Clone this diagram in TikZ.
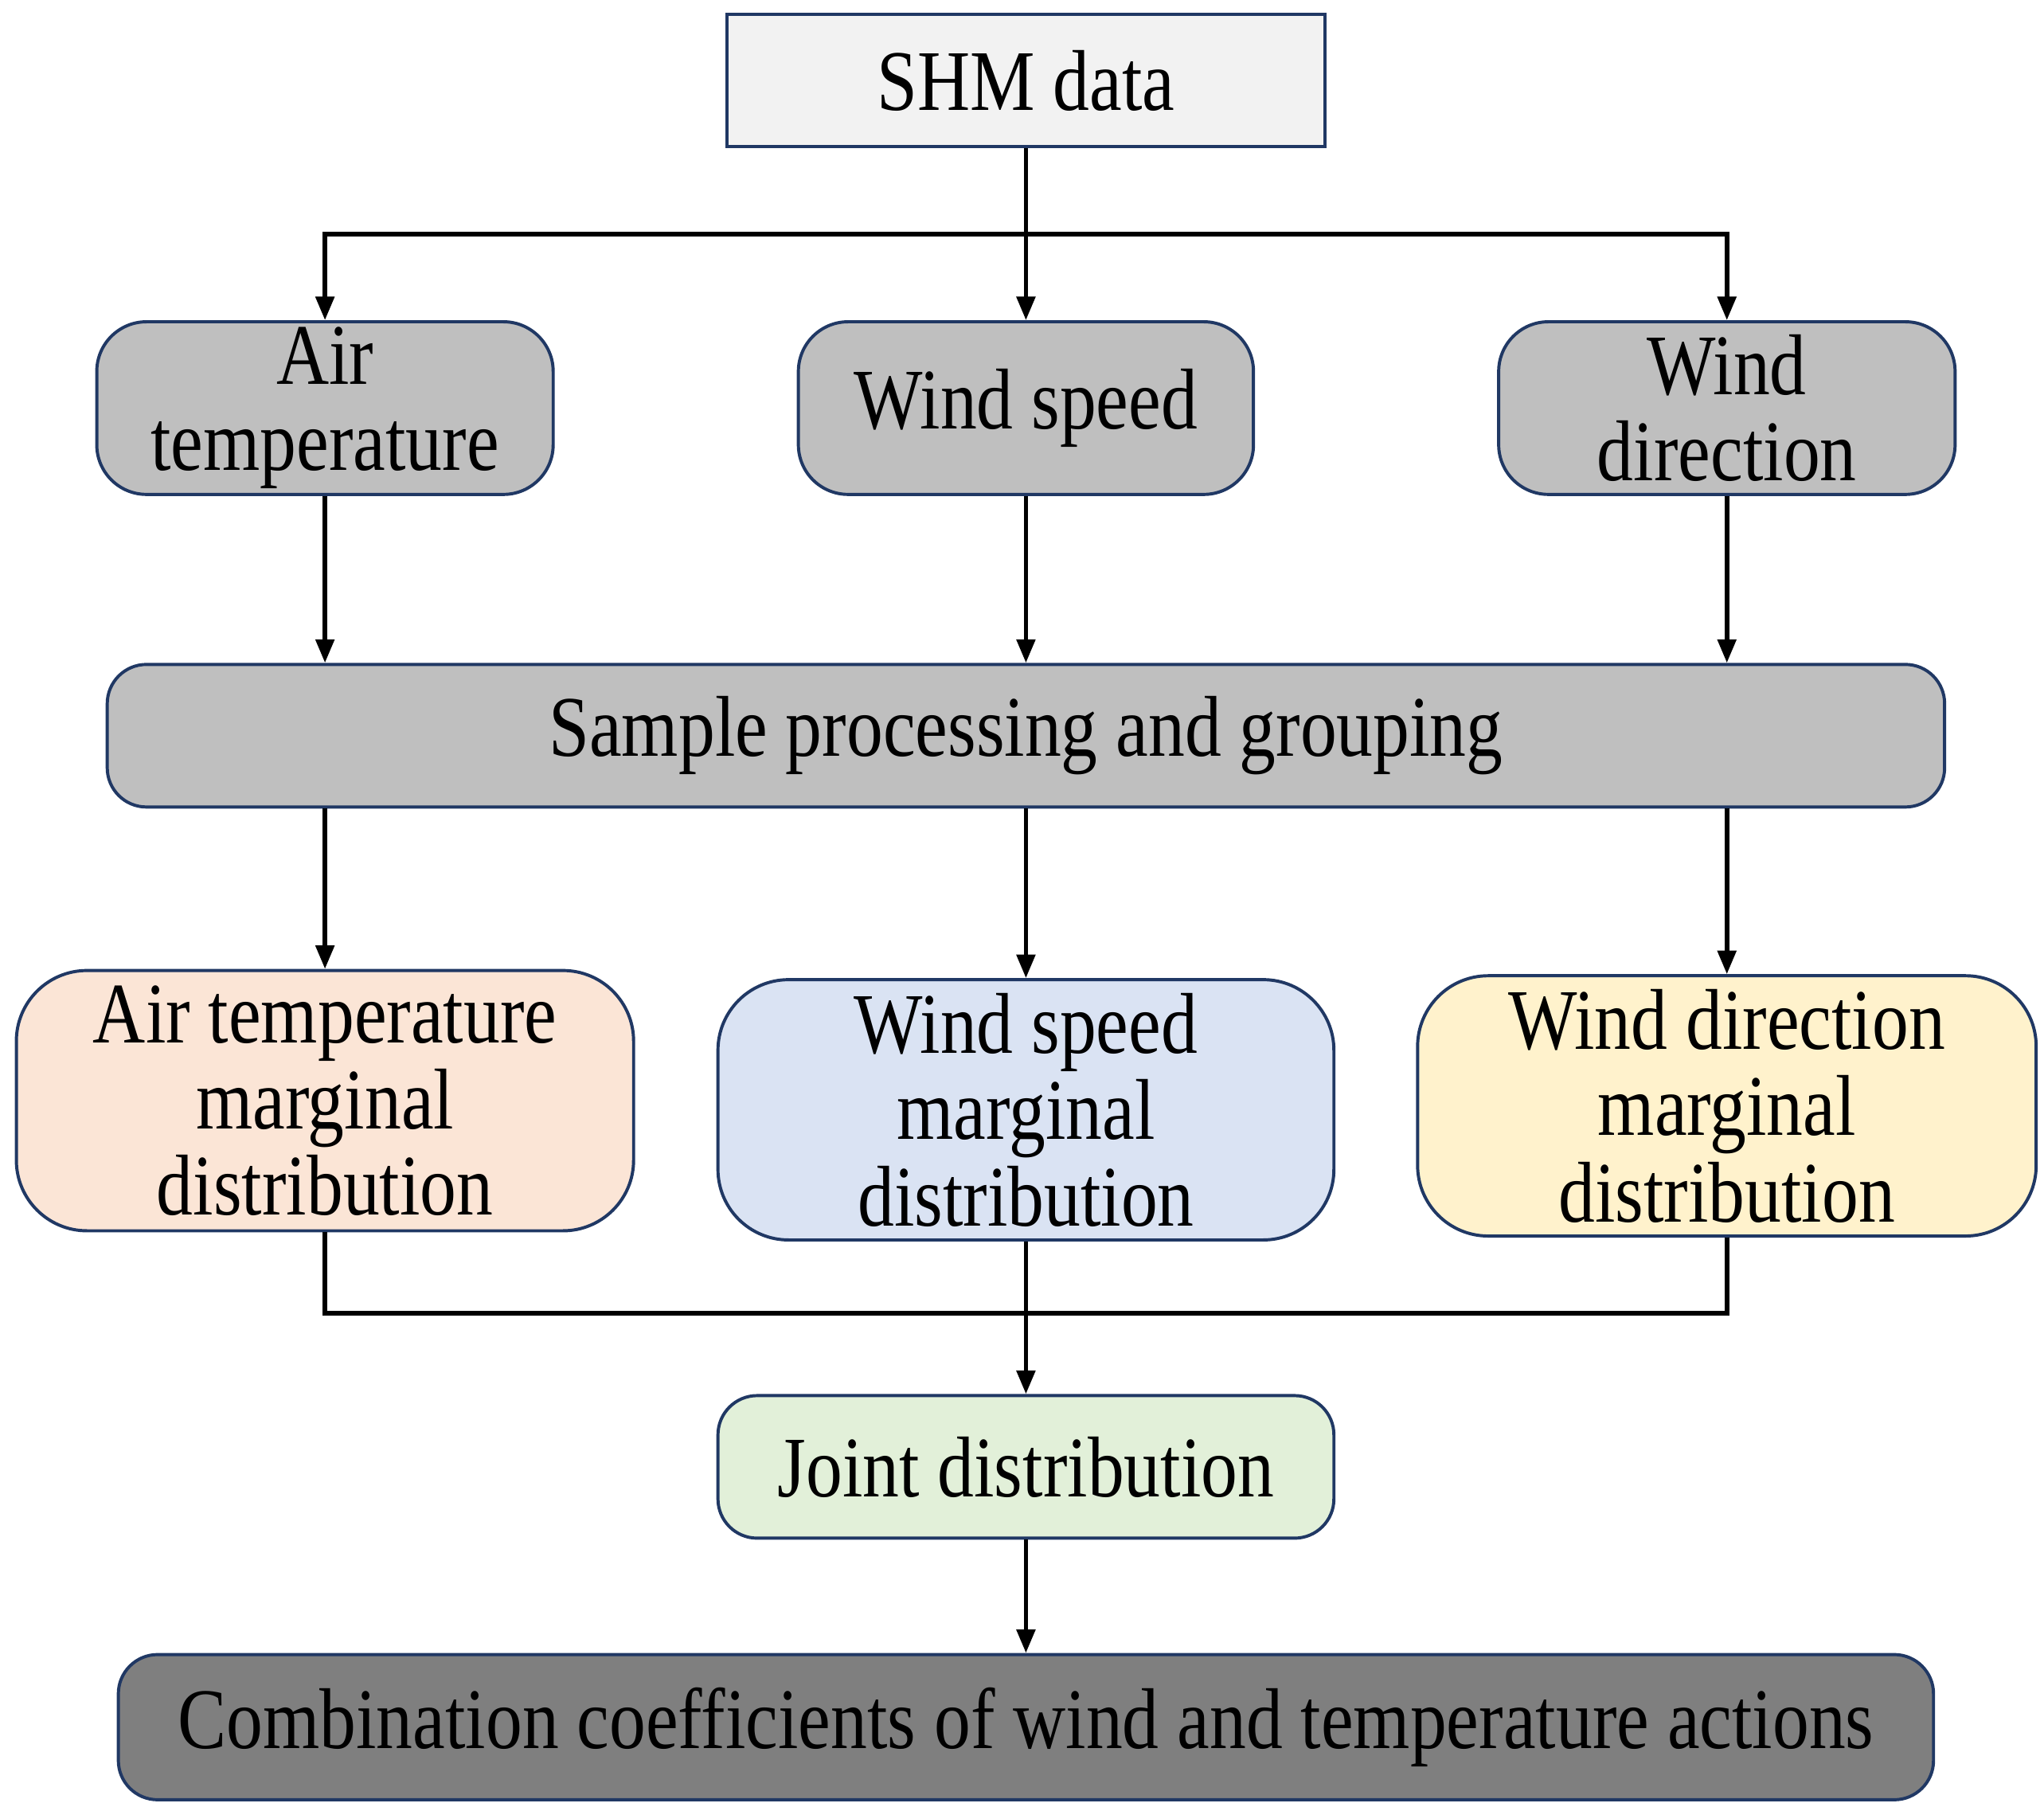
\documentclass[tikz,border=0pt]{standalone}
\usepackage{fontspec}
\setmainfont{Liberation Serif}[FakeStretch=0.845]
\usetikzlibrary{arrows.meta,calc}
\definecolor{navy}{HTML}{203864}
\definecolor{gA}{HTML}{F2F2F2}
\definecolor{gB}{HTML}{BFBFBF}
\definecolor{gC}{HTML}{7F7F7F}
\definecolor{cOr}{HTML}{FBE5D6}
\definecolor{cBl}{HTML}{DAE3F3}
\definecolor{cYe}{HTML}{FFF2CC}
\definecolor{cGr}{HTML}{E2F0D9}
\tikzset{
  box/.style={draw=navy, line width=1.2pt, align=center, inner sep=0pt,
    font=\fontsize{33}{33}\selectfont},
  rbox/.style={box, rounded corners=#1},
  arr/.style={line width=1.7pt, -{Triangle[length=9pt,width=7pt]}},
  ln/.style={line width=1.7pt}
}
\begin{document}
\begin{tikzpicture}[x=0.5pt,y=-0.5pt]
\useasboundingbox (0,0) rectangle (1563,1381);
\node[box, fill=gA, minimum width=228.5pt, minimum height=50.5pt] (shm) at (784.5,61.5) {SHM data};
\node[rbox=19pt, fill=gB, minimum width=174.5pt, minimum height=66pt] (at) at (248.5,312) {Air\\temperature};
\node[rbox=19pt, fill=gB, minimum width=174pt, minimum height=66pt] (ws) at (784.5,312) {Wind speed};
\node[rbox=19pt, fill=gB, minimum width=174.5pt, minimum height=66pt] (wd) at (1320.5,312) {Wind\\direction};
\node[rbox=15pt, fill=gB, minimum width=702.5pt, minimum height=54.5pt] (sp) at (784.5,562.5) {Sample processing and grouping};
\node[rbox=27pt, fill=cOr, minimum width=236pt, minimum height=99.5pt] (atm) at (248.5,841.5) {Air temperature\\marginal\\distribution};
\node[rbox=27pt, fill=cBl, minimum width=235.5pt, minimum height=99.5pt] (wsm) at (784.5,848.5) {Wind speed\\marginal\\distribution};
\node[rbox=27pt, fill=cYe, minimum width=236.5pt, minimum height=99.5pt] (wdm) at (1320.5,845.5) {Wind direction\\marginal\\distribution};
\node[rbox=15pt, fill=cGr, minimum width=235.5pt, minimum height=54.5pt] (jd) at (784.5,1121.5) {Joint distribution};
\node[rbox=15pt, fill=gC, minimum width=694pt, minimum height=55.5pt] (cc) at (784.5,1320.5) {Combination coefficients of wind and temperature actions};
% top fan-out
\coordinate (j1) at ($(shm.south)!0.5!(ws.north)$);
\draw[arr] (shm.south) -- (ws.north);
\draw[arr] (j1) -| (at.north);
\draw[arr] (j1) -| (wd.north);
% row1 to sample
\draw[arr] (at.south) -- (at.south |- sp.north);
\draw[arr] (ws.south) -- (ws.south |- sp.north);
\draw[arr] (wd.south) -- (wd.south |- sp.north);
% sample to marginals
\draw[arr] (sp.south -| atm.north) -- (atm.north);
\draw[arr] (sp.south -| wsm.north) -- (wsm.north);
\draw[arr] (sp.south -| wdm.north) -- (wdm.north);
% marginals to joint
\coordinate (j2) at (784.5,1004);
\draw[ln] (atm.south) |- (j2);
\draw[ln] (wdm.south) |- (j2);
\draw[arr] (wsm.south) -- (jd.north);
\draw[arr] (jd.south) -- (cc.north);
\end{tikzpicture}
\end{document}
